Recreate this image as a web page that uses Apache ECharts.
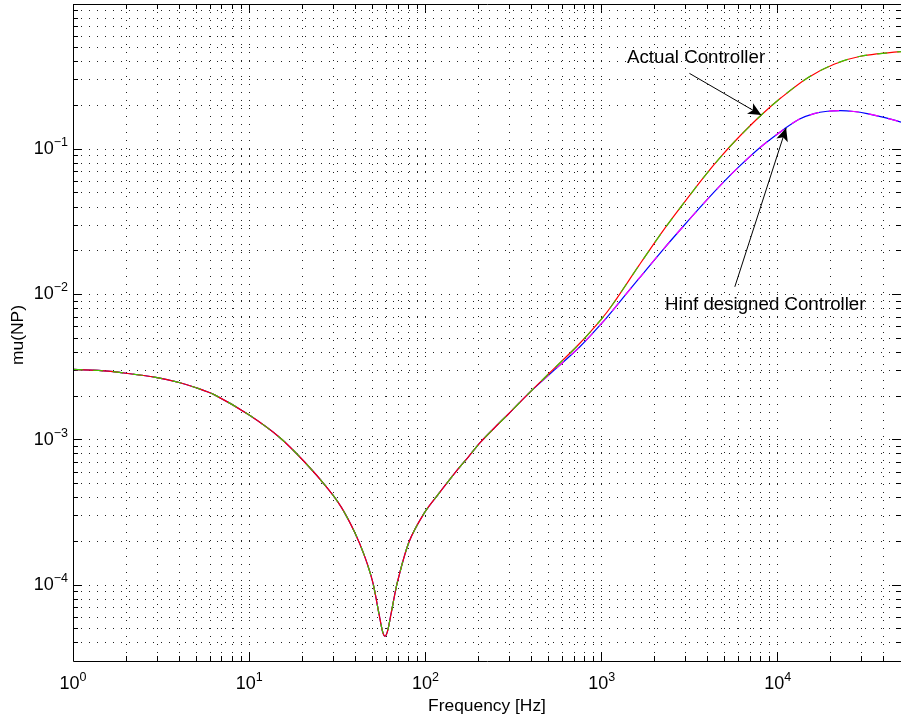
<!DOCTYPE html>
<html><head><meta charset="utf-8">
<script src="https://cdn.jsdelivr.net/npm/echarts@6/dist/echarts.min.js"></script>
<style>html,body{margin:0;padding:0;background:#fff}#c{width:901px;height:722px}</style>
</head><body><div id="c"></div>
<script>
// ---- data ----
const freqActual = [1, 1.5, 2, 3, 4, 5, 6.4, 10, 15, 20.7, 28, 33.3, 39.6, 45, 50.2, 54.7, 57.1, 58.9, 60.9, 63.6, 69.4, 80.7, 98, 117, 151, 175, 205, 250, 295, 391, 506, 750, 1000, 1151, 1626, 2203, 2851, 3863, 4795, 5960, 8054, 10420, 14720, 20840, 29440, 50000];
const muActual   = [3.05e-3, 2.98e-3, 2.87e-3, 2.68e-3, 2.48e-3, 2.28e-3, 2.03e-3, 1.48e-3, 1.03e-3, 7.0e-4, 4.6e-4, 3.44e-4, 2.32e-4, 1.60e-4, 1.05e-4, 6.2e-5, 4.8e-5, 4.45e-5, 4.8e-5, 6.2e-5, 1.05e-4, 1.98e-4, 3.1e-4, 4.14e-4, 6.15e-4, 7.6e-4, 9.6e-4, 1.23e-3, 1.5e-3, 2.12e-3, 2.88e-3, 4.6e-3, 6.8e-3, 8.5e-3, 1.58e-2, 2.69e-2, 4.09e-2, 6.59e-2, 9.0e-2, 0.12, 0.172, 0.226, 0.31, 0.385, 0.437, 0.47];
const freqHinf = [1, 1.5, 2, 3, 4, 5, 6.4, 10, 15, 20.7, 28, 33.3, 39.6, 45, 50.2, 54.7, 57.1, 58.9, 60.9, 63.6, 69.4, 80.7, 98, 117, 151, 175, 205, 250, 295, 391, 506, 750, 1000, 1151, 1626, 2203, 2851, 3863, 4795, 5960, 8054, 10890, 13200, 16070, 19100, 22700, 27000, 32100, 40000, 50000];
const muHinf   = [3.05e-3, 2.98e-3, 2.87e-3, 2.68e-3, 2.48e-3, 2.28e-3, 2.03e-3, 1.48e-3, 1.03e-3, 7.0e-4, 4.6e-4, 3.44e-4, 2.32e-4, 1.60e-4, 1.05e-4, 6.2e-5, 4.8e-5, 4.45e-5, 4.8e-5, 6.2e-5, 1.05e-4, 1.98e-4, 3.1e-4, 4.14e-4, 6.15e-4, 7.6e-4, 9.6e-4, 1.23e-3, 1.5e-3, 2.12e-3, 2.82e-3, 4.35e-3, 6.33e-3, 7.73e-3, 1.285e-2, 2.0e-2, 2.87e-2, 4.34e-2, 5.75e-2, 7.5e-2, 0.1045, 0.138, 0.161, 0.176, 0.1826, 0.1845, 0.182, 0.176, 0.1656, 0.1538];

const xMajorTicks = [1, 10, 100, 1000, 10000];
const xMinorTicks = [2,3,4,5,6,7,8,9, 20,30,40,50,60,70,80,90, 200,300,400,500,600,700,800,900, 2000,3000,4000,5000,6000,7000,8000,9000, 20000,30000,40000];
const yMajorTicks = [1e-4, 1e-3, 1e-2, 1e-1];
const yMinorTicks = [4e-5,5e-5,6e-5,7e-5,8e-5,9e-5, 2e-4,3e-4,4e-4,5e-4,6e-4,7e-4,8e-4,9e-4, 2e-3,3e-3,4e-3,5e-3,6e-3,7e-3,8e-3,9e-3, 2e-2,3e-2,4e-2,5e-2,6e-2,7e-2,8e-2,9e-2, 0.2,0.3,0.4,0.5,0.6,0.7,0.8,0.9];
const xRange = [1, 50000];
const yRange = [3e-5, 1];

const annotations = [
  { text: 'Actual Controller', from: [3150, 0.333], to: [8054, 0.172] },
  { text: 'Hinf designed Controller', from: [5700, 0.0113], to: [11140, 0.14] }
];

// ---- chart ----
const FONT = 'Liberation Sans, Arial, Helvetica, sans-serif';
const chart = echarts.init(document.getElementById('c'), null, { renderer: 'canvas' });
const zip = (a, b) => a.map((v, i) => [v, b[i]]);

function crisp(v) { return Math.round(v - 0.5) + 0.5; }

function gridRender(dir, major) {
  return function (params, api) {
    const cs = params.coordSys;
    const top = cs.y, bot = cs.y + cs.height, left = cs.x, right = cs.x + cs.width;
    const tl = major ? 9 : 5;
    const dotted = { stroke: '#222', lineWidth: 1, lineDash: [1, 7] };
    const solid = { stroke: '#000', lineWidth: 1 };
    if (dir === 'x') {
      const x = crisp(api.coord([api.value(0), 1e-3])[0]);
      return { type: 'group', children: [
        { type: 'line', shape: { x1: x, y1: top, x2: x, y2: bot }, style: dotted },
        { type: 'line', shape: { x1: x, y1: bot, x2: x, y2: bot - tl }, style: solid },
        { type: 'line', shape: { x1: x, y1: top, x2: x, y2: top + tl }, style: solid }
      ]};
    } else {
      const y = crisp(api.coord([10, api.value(1)])[1]);
      return { type: 'group', children: [
        { type: 'line', shape: { x1: left, y1: y, x2: right, y2: y }, style: dotted },
        { type: 'line', shape: { x1: left, y1: y, x2: left + tl, y2: y }, style: solid },
        { type: 'line', shape: { x1: right, y1: y, x2: right - tl, y2: y }, style: solid }
      ]};
    }
  };
}

function frameRender(params) {
  const cs = params.coordSys;
  return { type: 'rect', shape: { x: crisp(cs.x), y: crisp(cs.y), width: Math.round(cs.width), height: Math.round(cs.height) },
           style: { fill: 'none', stroke: '#000', lineWidth: 1 } };
}

function powLabel(v) {
  const e = Math.round(Math.log10(v));
  if (Math.abs(Math.log10(v) - e) > 1e-6) return '';
  return '{b|10}{s|' + (e < 0 ? '\u2212' + (-e) : e) + '}';
}
const rich = {
  b: { fontSize: 18, lineHeight: 26, fontFamily: FONT, color: '#000' },
  s: { fontSize: 12.5, lineHeight: 12, verticalAlign: 'top', fontFamily: FONT, color: '#000' }
};

const option = {
  backgroundColor: '#fff',
  animation: false,
  grid: { left: 73, top: 4, width: 834, height: 657 },
  xAxis: {
    type: 'log', logBase: 10, min: xRange[0], max: xRange[1],
    axisLine: { show: false }, axisTick: { show: false }, splitLine: { show: false }, minorTick: { show: false },
    axisLabel: { formatter: powLabel, rich: rich, margin: 10, showMaxLabel: false, color: '#000' }
  },
  yAxis: {
    type: 'log', logBase: 10, min: yRange[0], max: yRange[1],
    axisLine: { show: false }, axisTick: { show: false }, splitLine: { show: false }, minorTick: { show: false },
    axisLabel: { formatter: powLabel, rich: rich, margin: 5, showMinLabel: false, showMaxLabel: false, color: '#000' }
  },
  graphic: [
    { type: 'text', x: 487, y: 706, style: { text: 'Frequency [Hz]', fontSize: 17.4, fontFamily: FONT, fill: '#000', align: 'center', verticalAlign: 'middle' } },
    { type: 'text', x: 18, y: 335, rotation: Math.PI / 2, style: { text: 'mu(NP)', fontSize: 17.4, fontFamily: FONT, fill: '#000', align: 'center', verticalAlign: 'middle' } },
    { type: 'text', x: 627, y: 58, style: { text: annotations[0].text, fontSize: 18.7, fontFamily: FONT, fill: '#000', align: 'left', verticalAlign: 'middle' } },
    { type: 'text', x: 665, y: 305, style: { text: annotations[1].text, fontSize: 18.7, fontFamily: FONT, fill: '#000', align: 'left', verticalAlign: 'middle' } }
  ],
  series: [
    { type: 'custom', silent: true, renderItem: gridRender('x', false), data: xMinorTicks.map(v => [v, 1e-3]), z: 1 },
    { type: 'custom', silent: true, renderItem: gridRender('x', true), data: xMajorTicks.map(v => [v, 1e-3]), z: 1 },
    { type: 'custom', silent: true, renderItem: gridRender('y', false), data: yMinorTicks.map(v => [10, v]), z: 1 },
    { type: 'custom', silent: true, renderItem: gridRender('y', true), data: yMajorTicks.map(v => [10, v]), z: 1 },
    { type: 'line', name: 'Hinf', data: zip(freqHinf, muHinf), showSymbol: false, smooth: 0.3, lineStyle: { color: '#0000ff', width: 1.2 }, z: 3 },
    { type: 'line', name: 'Hinf2', data: zip(freqHinf, muHinf), showSymbol: false, smooth: 0.3, lineStyle: { color: '#ff00ff', width: 1.2, type: [10, 10] }, z: 3 },
    { type: 'line', name: 'Actual', data: zip(freqActual, muActual), showSymbol: false, smooth: 0.3, lineStyle: { color: '#ff0000', width: 1.2 }, z: 4 },
    { type: 'line', name: 'Actual2', data: zip(freqActual, muActual), showSymbol: false, smooth: 0.3, lineStyle: { color: '#3cc800', width: 1.2, type: [10, 10] }, z: 4,
      markLine: { silent: true, symbol: ['none', 'arrow'], symbolSize: [9, 13], animation: false,
        lineStyle: { color: '#000', width: 1, type: 'solid' }, label: { show: false },
        data: annotations.map(a => [{ coord: a.from }, { coord: a.to }]) } },
    { type: 'custom', silent: true, renderItem: frameRender, data: [[10, 1e-3]], z: 5 }
  ]
};
chart.setOption(option);
</script></body></html>
